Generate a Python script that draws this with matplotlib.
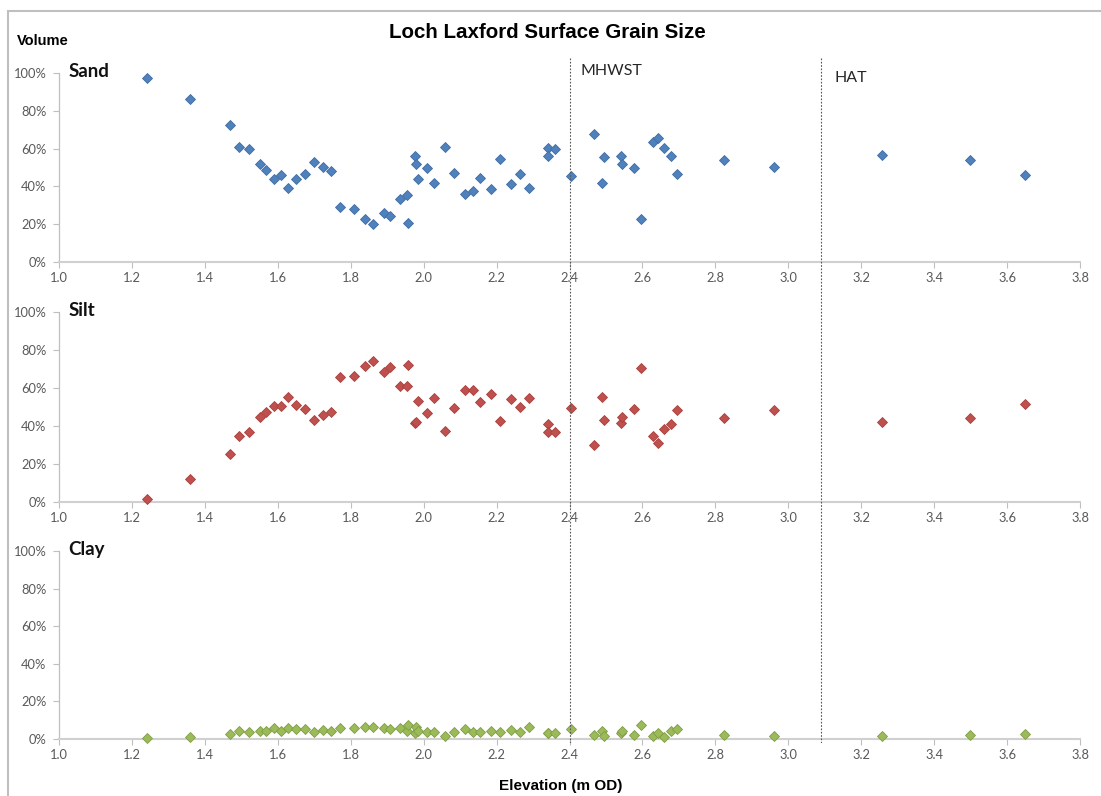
import matplotlib
matplotlib.use("Agg")
import matplotlib.pyplot as plt
from matplotlib.patches import Rectangle
from matplotlib.ticker import FuncFormatter

# ---------------- data ----------------
elevation = [1.240, 1.360, 1.469, 1.495, 1.520, 1.551, 1.569, 1.589, 1.609, 1.629,
             1.649, 1.674, 1.699, 1.724, 1.745, 1.770, 1.810, 1.840, 1.860, 1.890,
             1.909, 1.934, 1.953, 1.958, 1.975, 1.980, 1.985, 2.009, 2.029, 2.059,
             2.083, 2.114, 2.134, 2.155, 2.184, 2.209, 2.240, 2.263, 2.289, 2.340,
             2.341, 2.359, 2.403, 2.468, 2.490, 2.494, 2.540, 2.544, 2.578, 2.595,
             2.629, 2.644, 2.658, 2.679, 2.695, 2.825, 2.961, 3.257, 3.498, 3.648]

sand = [97.5, 86.0, 72.5, 61.0, 60.0, 51.6, 48.8, 43.9, 46.0, 39.0,
        43.9, 46.5, 53.0, 50.0, 48.2, 29.0, 28.0, 22.5, 20.0, 26.0,
        24.2, 33.5, 35.4, 20.5, 56.3, 52.0, 43.7, 49.6, 41.8, 60.9,
        47.0, 36.0, 37.4, 44.4, 38.6, 54.4, 41.2, 46.8, 39.1, 60.4,
        56.0, 59.9, 45.3, 67.9, 41.6, 55.3, 56.0, 51.6, 49.5, 22.5,
        63.7, 65.8, 60.5, 56.0, 46.7, 54.2, 50.2, 56.7, 53.9, 46.0]

silt = [1.6, 12.3, 25.1, 35.0, 36.7, 44.5, 47.3, 50.3, 50.3, 55.2,
        51.0, 48.9, 43.4, 45.9, 47.3, 65.7, 66.3, 71.4, 74.3, 68.5,
        71.0, 60.8, 60.8, 72.2, 41.6, 42.2, 53.4, 47.1, 54.5, 37.4,
        49.7, 59.0, 59.0, 52.4, 56.9, 42.5, 54.2, 50.2, 54.8, 41.0,
        36.8, 37.0, 49.7, 30.0, 55.2, 43.2, 41.5, 44.8, 48.9, 70.5,
        34.8, 31.3, 38.5, 40.8, 48.3, 44.1, 48.3, 42.2, 44.1, 51.8]

clay = [0.4, 1.2, 2.7, 4.1, 3.5, 4.4, 4.4, 5.8, 4.1, 5.8,
        5.5, 5.3, 3.7, 4.6, 4.4, 5.8, 5.8, 6.5, 6.2, 5.8,
        5.1, 5.8, 4.1, 7.6, 3.0, 6.2, 4.4, 3.7, 3.9, 1.8,
        3.7, 5.3, 3.9, 3.7, 4.4, 3.5, 4.8, 3.7, 6.2, 3.0,
        3.0, 3.1, 5.3, 2.3, 4.1, 1.8, 3.2, 4.1, 2.3, 7.4,
        1.8, 3.0, 1.2, 4.1, 5.1, 1.9, 1.8, 1.4, 1.9, 2.8]

panel_names = ["Sand", "Silt", "Clay"]
series = [sand, silt, clay]
face_colors = ["#4f81bd", "#c0504d", "#9bbb59"]
edge_colors = ["#3f6da3", "#a8403d", "#7f9c45"]

tide_levels = [2.4, 3.09]
tide_names = ["MHWST", "HAT"]

x_ticks = [1.0, 1.2, 1.4, 1.6, 1.8, 2.0, 2.2, 2.4, 2.6, 2.8, 3.0, 3.2, 3.4, 3.6, 3.8]
y_ticks = [0, 20, 40, 60, 80, 100]

# ---------------- layout ----------------
W, H = 1101, 796
fig = plt.figure(figsize=(W / 100, H / 100), dpi=100)
fig.patch.set_facecolor("white")

left_px, right_px = 59, 1080
panels_px = [(73, 262), (312, 502), (551, 739)]  # (100% y, 0% y) in pixels

AX_GREY = "#bfbfbf"
TXT_GREY = "#595959"

axes = []
for i, (top_px, bot_px) in enumerate(panels_px):
    ax = fig.add_axes([left_px / W, 1 - bot_px / H,
                       (right_px - left_px) / W, (bot_px - top_px) / H])
    ax.plot(elevation, series[i], linestyle="none", marker="D", markersize=4.6,
            markerfacecolor=face_colors[i], markeredgecolor=edge_colors[i],
            markeredgewidth=0.6, clip_on=False, zorder=3)
    ax.set_xlim(1.0, 3.8)
    ax.set_ylim(0, 100)
    ax.set_xticks(x_ticks)
    ax.set_yticks(y_ticks)
    ax.xaxis.set_major_formatter(FuncFormatter(lambda v, p: f"{v:.1f}"))
    ax.yaxis.set_major_formatter(FuncFormatter(lambda v, p: f"{int(round(v))}%"))
    for s in ["top", "right"]:
        ax.spines[s].set_visible(False)
    ax.spines["left"].set_color(AX_GREY)
    ax.spines["left"].set_linewidth(0.9)
    ax.spines["bottom"].set_color("#d0d0d0")
    ax.spines["bottom"].set_linewidth(1.5)
    ax.tick_params(axis="both", direction="out", length=4, width=0.8,
                   color=AX_GREY, labelcolor=TXT_GREY, labelsize=9.3)
    ax.tick_params(axis="x", pad=3)
    ax.tick_params(axis="y", pad=5)
    for lab in ax.get_xticklabels() + ax.get_yticklabels():
        lab.set_family("Lato")
    ax.set_facecolor("none")
    ax.text(1.025, 101, panel_names[i], fontsize=13.5, fontweight="bold",
            family="Lato", color="#111111", va="center", ha="left")
    axes.append(ax)

# vertical reference lines spanning all panels
top_line_px, bot_line_px = 57, 743
ov = fig.add_axes([left_px / W, 1 - bot_line_px / H,
                   (right_px - left_px) / W, (bot_line_px - top_line_px) / H])
ov.set_xlim(1.0, 3.8)
ov.set_ylim(0, 1)
ov.axis("off")
ov.patch.set_alpha(0)
for lvl in tide_levels:
    ov.axvline(lvl, color="#555555", linewidth=0.8, linestyle=(0, (1.5, 1.5)))

axes[0].text(tide_levels[0] + 0.03, 101, tide_names[0], fontsize=11.5,
             family="Lato", color="#262626", va="center", ha="left")
axes[0].text(tide_levels[1] + 0.038, 97.5, tide_names[1], fontsize=11.5,
             family="Lato", color="#262626", va="center", ha="left")

# titles
fig.text(547 / W, 1 - 32 / H, "Loch Laxford Surface Grain Size", fontsize=14.8,
         fontweight="bold", family="Liberation Sans", ha="center", va="center",
         color="#000000")
fig.text(17 / W, 1 - 41 / H, "Volume", fontsize=10.5, fontweight="bold",
         family="Liberation Sans", ha="left", va="center", color="#000000")
fig.text(561 / W, 1 - 786 / H, "Elevation (m OD)", fontsize=11,
         fontweight="bold", family="Liberation Sans", ha="center", va="center",
         color="#000000")

# chart border
fig.patches.append(Rectangle((8 / W, -0.02), 1.0, (H - 11) / H + 0.02,
                             transform=fig.transFigure, fill=False,
                             edgecolor="#bfbfbf", linewidth=1.5))

fig.savefig("out.png", dpi=100, facecolor="white")
